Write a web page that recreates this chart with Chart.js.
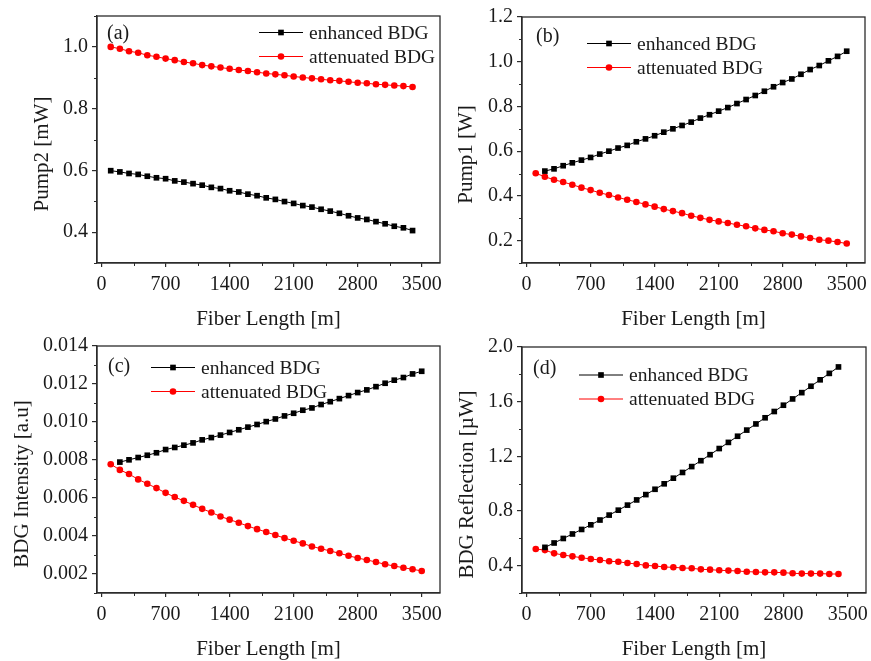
<!DOCTYPE html>
<html>
<head>
<meta charset="UTF-8">
<title>BDG vs fiber length</title>
<script src="https://cdn.jsdelivr.net/npm/chart.js"></script>
<style>
  body { margin: 0; background: #fff; }
  #wrap { position: relative; width: 871px; height: 661px; overflow: hidden; }
  .panel { position: absolute; }
</style>
</head>
<body>
<div id="wrap">
  <div class="panel" style="left:0;top:0;width:444px;height:330px"><canvas id="chartA"></canvas></div>
  <div class="panel" style="left:444px;top:0;width:427px;height:330px"><canvas id="chartB"></canvas></div>
  <div class="panel" style="left:0;top:330px;width:444px;height:331px"><canvas id="chartC"></canvas></div>
  <div class="panel" style="left:444px;top:330px;width:427px;height:331px"><canvas id="chartD"></canvas></div>
</div>

<script>
// fiber length positions [m]
const len100to3400 = [100, 200, 300, 400, 500, 600, 700, 800, 900, 1000, 1100, 1200, 1300, 1400, 1500, 1600, 1700,
  1800, 1900, 2000, 2100, 2200, 2300, 2400, 2500, 2600, 2700, 2800, 2900, 3000, 3100, 3200, 3300, 3400];
const len100to3500 = [100, 200, 300, 400, 500, 600, 700, 800, 900, 1000, 1100, 1200, 1300, 1400, 1500, 1600, 1700,
  1800, 1900, 2000, 2100, 2200, 2300, 2400, 2500, 2600, 2700, 2800, 2900, 3000, 3100, 3200, 3300, 3400, 3500];
const len200to3400 = [200, 300, 400, 500, 600, 700, 800, 900, 1000, 1100, 1200, 1300, 1400, 1500, 1600, 1700,
  1800, 1900, 2000, 2100, 2200, 2300, 2400, 2500, 2600, 2700, 2800, 2900, 3000, 3100, 3200, 3300, 3400];
const len200to3500 = [200, 300, 400, 500, 600, 700, 800, 900, 1000, 1100, 1200, 1300, 1400, 1500, 1600, 1700,
  1800, 1900, 2000, 2100, 2200, 2300, 2400, 2500, 2600, 2700, 2800, 2900, 3000, 3100, 3200, 3300, 3400, 3500];

// (a) Pump2 [mW]
const pump2Enhanced = [0.599, 0.595, 0.590, 0.587, 0.581, 0.576, 0.573, 0.566, 0.562, 0.557, 0.552, 0.545, 0.541,
  0.534, 0.530, 0.523, 0.518, 0.511, 0.506, 0.499, 0.493, 0.486, 0.481, 0.474, 0.468, 0.461, 0.453, 0.446, 0.441,
  0.434, 0.427, 0.419, 0.414, 0.405];
const pump2Attenuated = [1.000, 0.994, 0.986, 0.981, 0.973, 0.968, 0.962, 0.957, 0.951, 0.947, 0.941, 0.937, 0.933,
  0.929, 0.925, 0.922, 0.918, 0.914, 0.911, 0.908, 0.904, 0.901, 0.898, 0.895, 0.892, 0.890, 0.887, 0.884, 0.882,
  0.879, 0.877, 0.875, 0.873, 0.870];

// (b) Pump1 [W]
const pump1Enhanced = [0.511, 0.521, 0.535, 0.548, 0.560, 0.572, 0.587, 0.600, 0.614, 0.626, 0.642, 0.655, 0.669,
  0.685, 0.700, 0.715, 0.730, 0.748, 0.763, 0.779, 0.795, 0.813, 0.831, 0.849, 0.868, 0.888, 0.907, 0.923, 0.944,
  0.965, 0.983, 1.004, 1.024, 1.047];
const pump1Attenuated = [0.501, 0.486, 0.472, 0.462, 0.450, 0.437, 0.426, 0.414, 0.404, 0.393, 0.383, 0.373, 0.362,
  0.352, 0.341, 0.332, 0.323, 0.311, 0.302, 0.293, 0.286, 0.279, 0.271, 0.264, 0.255, 0.248, 0.242, 0.233, 0.227,
  0.219, 0.212, 0.204, 0.200, 0.194, 0.187];

// (c) BDG Intensity [a.u]
const intensityEnhanced = [0.00789, 0.00801, 0.00813, 0.00825, 0.00838, 0.00855, 0.00866, 0.00878, 0.00890, 0.00906,
  0.00918, 0.00931, 0.00945, 0.00959, 0.00973, 0.00987, 0.01002, 0.01016, 0.01032, 0.01046, 0.01062, 0.01074,
  0.01092, 0.01107, 0.01123, 0.01139, 0.01155, 0.01169, 0.01186, 0.01204, 0.01220, 0.01234, 0.01253, 0.01267];
const intensityAttenuated = [0.00778, 0.00748, 0.00726, 0.00698, 0.00675, 0.00652, 0.00627, 0.00605, 0.00585,
  0.00564, 0.00543, 0.00524, 0.00503, 0.00486, 0.00470, 0.00452, 0.00436, 0.00421, 0.00405, 0.00389, 0.00375,
  0.00361, 0.00345, 0.00333, 0.00321, 0.00309, 0.00296, 0.00284, 0.00274, 0.00263, 0.00251, 0.00242, 0.00233,
  0.00225, 0.00216];

// (d) BDG Reflection [µW]
const reflectionEnhanced = [0.534, 0.566, 0.599, 0.632, 0.665, 0.699, 0.734, 0.770, 0.806, 0.843, 0.881, 0.920,
  0.959, 0.999, 1.040, 1.082, 1.125, 1.168, 1.212, 1.257, 1.302, 1.347, 1.392, 1.437, 1.482, 1.528, 1.574, 1.620,
  1.666, 1.713, 1.760, 1.807, 1.854];
const reflectionAttenuated = [0.522, 0.514, 0.490, 0.478, 0.468, 0.458, 0.449, 0.441, 0.432, 0.429, 0.419, 0.412,
  0.402, 0.398, 0.390, 0.388, 0.383, 0.381, 0.373, 0.371, 0.366, 0.364, 0.361, 0.356, 0.354, 0.351, 0.351, 0.349,
  0.344, 0.342, 0.342, 0.342, 0.339, 0.339];

// tick values
const xTicks = [0, 700, 1400, 2100, 2800, 3500];
const xMinorTicks = [350, 1050, 1750, 2450, 3150];
const yTicksA = [0.4, 0.6, 0.8, 1.0];
const yMinorA = [0.3, 0.5, 0.7, 0.9, 1.1];
const yTicksB = [0.2, 0.4, 0.6, 0.8, 1.0, 1.2];
const yMinorB = [0.1, 0.3, 0.5, 0.7, 0.9, 1.1];
const yTicksC = [0.002, 0.004, 0.006, 0.008, 0.010, 0.012, 0.014];
const yMinorC = [0.001, 0.003, 0.005, 0.007, 0.009, 0.011, 0.013];
const yTicksD = [0.4, 0.8, 1.2, 1.6, 2.0];
const yMinorD = [0.2, 0.6, 1.0, 1.4, 1.8];

const seriesNames = ['enhanced BDG', 'attenuated BDG'];

const FONT = "'Liberation Serif', 'Times New Roman', serif";
const AXIS = '#2b2b2b';
const TEXT = '#1a1a1a';

function pts(xs, ys) {
  return xs.map((v, i) => ({ x: v, y: ys[i] }));
}

// frame, minor ticks, panel letter, legend, axis titles
const decoPlugin = {
  id: 'deco',
  afterDraw(chart, args, o) {
    const { ctx, chartArea: a, scales: { x, y } } = chart;
    ctx.save();
    ctx.strokeStyle = AXIS;
    ctx.lineWidth = 1.3;
    ctx.strokeRect(a.left, a.top, a.width, a.height);

    ctx.lineWidth = 1;
    ctx.beginPath();
    o.minorX.forEach(v => {
      const px = Math.round(x.getPixelForValue(v)) + 0.5;
      ctx.moveTo(px, a.bottom); ctx.lineTo(px, a.bottom + 3);
    });
    o.minorY.forEach(v => {
      const py = Math.round(y.getPixelForValue(v)) + 0.5;
      ctx.moveTo(a.left - 3, py); ctx.lineTo(a.left, py);
    });
    ctx.stroke();

    ctx.fillStyle = TEXT;
    ctx.font = '20px ' + FONT;
    ctx.textAlign = 'left';
    ctx.textBaseline = 'alphabetic';
    ctx.fillText(o.label, a.left + o.labelX, a.top + o.labelY);

    chart.data.datasets.forEach((ds, i) => {
      const lx = a.left + o.legendX;
      const ly = a.top + o.legendY + i * 24;
      ctx.strokeStyle = ds.borderColor;
      ctx.lineWidth = 1;
      ctx.beginPath();
      ctx.moveTo(lx, ly); ctx.lineTo(lx + 44, ly);
      ctx.stroke();
      ctx.fillStyle = ds.pointBackgroundColor;
      Chart.helpers.drawPoint(ctx, { pointStyle: ds.pointStyle, radius: ds.pointRadius, rotation: 0, borderWidth: 0 }, lx + 22, ly);
      ctx.fillStyle = TEXT;
      ctx.font = '19.5px ' + FONT;
      ctx.fillText(ds.label, lx + 50, ly + 6);
    });

    ctx.font = '21px ' + FONT;
    ctx.textAlign = 'center';
    ctx.fillText('Fiber Length [m]', (a.left + a.right) / 2, o.xTitleY);
    ctx.translate(o.yTitleX, (a.top + a.bottom) / 2 + 14.5);
    ctx.rotate(-Math.PI / 2);
    ctx.textBaseline = 'middle';
    ctx.fillText(o.yTitle, 0, 0);
    ctx.restore();
  }
};

function makeChart(id, cfg) {
  const ctx = document.getElementById(id).getContext('2d');
  return new Chart(ctx, {
    type: 'scatter',
    data: {
      datasets: [
        {
          label: seriesNames[0],
          data: pts(cfg.enhancedX, cfg.enhanced),
          showLine: true,
          borderColor: '#000000',
          borderWidth: 1,
          pointStyle: 'rect',
          pointRadius: 4,
          pointBackgroundColor: '#000000',
          pointBorderWidth: 0
        },
        {
          label: seriesNames[1],
          data: pts(cfg.attenuatedX, cfg.attenuated),
          showLine: true,
          borderColor: '#ff0000',
          borderWidth: 1,
          pointStyle: 'circle',
          pointRadius: 3.3,
          pointBackgroundColor: '#ff0000',
          pointBorderWidth: 0
        }
      ]
    },
    options: {
      responsive: true,
      maintainAspectRatio: false,
      animation: false,
      layout: { padding: { top: cfg.top, right: cfg.right, left: 0, bottom: 0 } },
      plugins: {
        legend: { display: false },
        tooltip: { enabled: false },
        deco: {
          minorX: xMinorTicks, minorY: cfg.yMinor, label: cfg.label,
          labelX: cfg.labelPos[0], labelY: cfg.labelPos[1],
          legendX: cfg.legendPos[0], legendY: cfg.legendPos[1],
          yTitle: cfg.yTitle, yTitleX: cfg.yTitleX, xTitleY: 325
        }
      },
      scales: {
        x: {
          type: 'linear',
          min: -50,
          max: 3700,
          afterBuildTicks: s => { s.ticks = xTicks.map(v => ({ value: v })); },
          afterFit: s => { s.height = cfg.xHeight; s.paddingLeft = 0; s.paddingRight = 0; },
          ticks: { autoSkip: false, maxRotation: 0, padding: 6, color: TEXT, font: { family: FONT, size: 20 },
            callback: v => String(v) },
          grid: { drawOnChartArea: false, drawTicks: true, tickLength: 4, color: AXIS, lineWidth: 1.2 },
          border: { display: true, color: AXIS, width: 1.3 }
        },
        y: {
          type: 'linear',
          min: cfg.yMin,
          max: cfg.yMax,
          afterBuildTicks: s => { s.ticks = cfg.yTicks.map(v => ({ value: v })); },
          afterFit: s => { s.width = cfg.left; s.paddingTop = 0; s.paddingBottom = 0; },
          ticks: { autoSkip: false, padding: 4, color: TEXT, font: { family: FONT, size: 20 },
            callback: v => v.toFixed(cfg.decimals) },
          grid: { drawOnChartArea: false, drawTicks: true, tickLength: 5, color: AXIS, lineWidth: 1.2 },
          border: { display: true, color: AXIS, width: 1.3 }
        }
      }
    },
    plugins: [decoPlugin]
  });
}

makeChart('chartA', {
  enhancedX: len100to3400, enhanced: pump2Enhanced,
  attenuatedX: len100to3400, attenuated: pump2Attenuated,
  yMin: 0.3, yMax: 1.1, yTicks: yTicksA, yMinor: yMinorA, decimals: 1,
  top: 16, right: 4, left: 97, xHeight: 67,
  label: '(a)', labelPos: [10, 23], legendPos: [162, 16.5],
  yTitle: 'Pump2 [mW]', yTitleX: 42
});

makeChart('chartB', {
  enhancedX: len200to3500, enhanced: pump1Enhanced,
  attenuatedX: len100to3500, attenuated: pump1Attenuated,
  yMin: 0.1, yMax: 1.2, yTicks: yTicksB, yMinor: yMinorB, decimals: 1,
  top: 17, right: 6, left: 78, xHeight: 67,
  label: '(b)', labelPos: [14, 25], legendPos: [65, 26.5],
  yTitle: 'Pump1 [W]', yTitleX: 22
});

makeChart('chartC', {
  enhancedX: len200to3500, enhanced: intensityEnhanced,
  attenuatedX: len100to3500, attenuated: intensityAttenuated,
  yMin: 0.001, yMax: 0.014, yTicks: yTicksC, yMinor: yMinorC, decimals: 3,
  top: 16, right: 3, left: 97, xHeight: 68,
  label: '(c)', labelPos: [11, 26], legendPos: [54, 21.5],
  yTitle: 'BDG Intensity [a.u]', yTitleX: 22
});

makeChart('chartD', {
  enhancedX: len200to3400, enhanced: reflectionEnhanced,
  attenuatedX: len100to3400, attenuated: reflectionAttenuated,
  yMin: 0.2, yMax: 2.0, yTicks: yTicksD, yMinor: yMinorD, decimals: 1,
  top: 17, right: 5, left: 78, xHeight: 68,
  label: '(d)', labelPos: [11, 27], legendPos: [57, 28],
  yTitle: 'BDG Reflection [µW]', yTitleX: 23
});
</script>
</body>
</html>
